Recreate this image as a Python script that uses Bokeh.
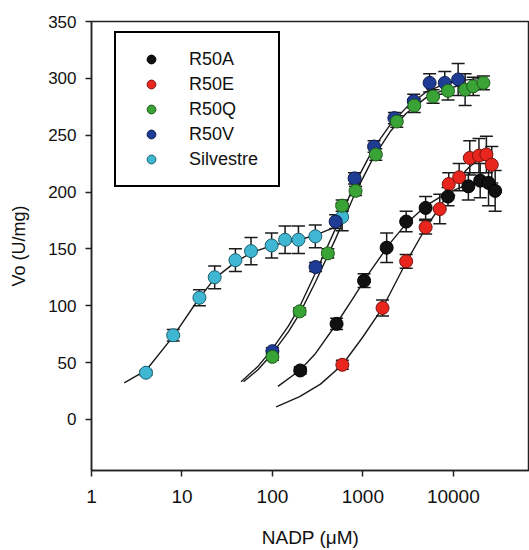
from bokeh.plotting import figure
from bokeh.models import (ColumnDataSource, Whisker, TeeHead, FixedTicker,
                          BasicTickFormatter, Legend, LegendItem, Range1d)
from bokeh.embed import file_html
from bokeh.resources import INLINE

# ---- data ----
sil_x = [4, 8, 15.6, 23, 39, 58, 98, 138, 194, 298, 590]
sil_y = [41, 74, 107, 125, 140, 148, 153, 158, 158, 161, 178]
sil_e = [2, 5, 7, 10, 10, 12, 11, 12, 12, 10, 12]

v_x = [100, 300, 500, 810, 1330, 2230, 3650, 5470, 8040, 11300]
v_y = [60, 134, 174, 212, 240, 265, 280, 296, 296, 299]
v_e = [3, 4, 6, 5, 5, 5, 6, 8, 10, 14]

q_x = [100, 200, 410, 590, 830, 1390, 2370, 3700, 5970, 8730, 13500, 16600, 21500]
q_y = [55, 95, 146, 188, 201, 233, 262, 276, 284, 289, 290, 293, 296]
q_e = [3, 3, 4, 5, 4, 5, 5, 6, 6, 8, 14, 8, 6]

a_x = [203, 512, 1031, 1832, 3010, 4940, 8730, 14660, 19800, 24500, 29000]
a_y = [43, 84, 122, 151, 174, 186, 196, 205, 210, 208, 201]
a_e = [3, 5, 6, 13, 9, 10, 8, 12, 15, 20, 18]

e_x = [593, 1650, 3010, 4940, 7080, 8900, 11600, 15200, 19200, 23200, 26600]
e_y = [48, 98, 139, 169, 185, 207, 213, 230, 232, 233, 224]
e_e = [4, 7, 6, 6, 13, 10, 12, 15, 15, 16, 16]

# fitted curves
fit_sil_x = [2.3, 4, 8, 15, 23, 40, 60, 100, 200, 300, 600]
fit_sil_y = [32, 43, 73, 105, 124, 139, 147, 153, 158, 162, 172]
fit_v_x = [45, 70, 100, 150, 200, 300, 500, 800, 1300, 2000, 3000, 5000, 8000, 12000, 20000]
fit_v_y = [33, 47, 62, 82, 99, 129, 168, 206, 238, 259, 274, 288, 295, 298, 300]
fit_q_x = [48, 70, 100, 150, 200, 300, 500, 800, 1300, 2000, 3000, 5000, 8000, 12000, 22000]
fit_q_y = [33, 44, 58, 77, 93, 121, 159, 197, 230, 253, 269, 283, 290, 294, 296]
fit_a_x = [115, 200, 300, 500, 800, 1200, 2000, 3000, 5000, 8000, 12000, 18000, 27000]
fit_a_y = [29, 43, 58, 83, 108, 130, 155, 172, 188, 198, 204, 208, 211]
fit_e_x = [110, 200, 340, 593, 990, 1650, 3000, 5000, 7000, 10000, 15000, 22000]
fit_e_y = [11, 20, 31, 48, 72, 98, 138, 169, 186, 207, 222, 232]

x_ticks = [1, 10, 100, 1000, 10000]
y_ticks = [0, 50, 100, 150, 200, 250, 300, 350]

series = [
    ("R50A", a_x, a_y, a_e, "#111111", "#000000"),
    ("R50E", e_x, e_y, e_e, "#e8261e", "#7a1410"),
    ("R50Q", q_x, q_y, q_e, "#3aa336", "#1d5a1b"),
    ("R50V", v_x, v_y, v_e, "#1e3c93", "#0e1d4d"),
    ("Silvestre", sil_x, sil_y, sil_e, "#3fb7d2", "#1b5f6e"),
]
fits = [(fit_sil_x, fit_sil_y), (fit_v_x, fit_v_y), (fit_q_x, fit_q_y),
        (fit_a_x, fit_a_y), (fit_e_x, fit_e_y)]

FONT = "Liberation Sans"

p = figure(width=529, height=550, x_axis_type="log",
           x_range=Range1d(1, 69500), y_range=Range1d(-45, 350),
           output_backend="svg", toolbar_location=None,
           min_border_left=91, min_border_right=0,
           min_border_top=21, min_border_bottom=80,
           background_fill_color="white", border_fill_color="white")
p.outline_line_color = "#222222"
p.outline_line_width = 1.5
p.xgrid.visible = False
p.ygrid.visible = False

for fx, fy in fits:
    p.line(fx, fy, line_color="#1a1a1a", line_width=1.4)

renderers = {}
for name, xs, ys, es, fill, edge in series:
    src = ColumnDataSource(dict(x=xs, y=ys,
                                lo=[y - e for y, e in zip(ys, es)],
                                hi=[y + e for y, e in zip(ys, es)]))
    w = Whisker(base="x", lower="lo", upper="hi", source=src,
                line_color="#1a1a1a", line_width=1.5,
                upper_head=TeeHead(size=13, line_color="#1a1a1a", line_width=1.5),
                lower_head=TeeHead(size=13, line_color="#1a1a1a", line_width=1.5))
    p.add_layout(w)

for name, xs, ys, es, fill, edge in series[::-1]:
    src = ColumnDataSource(dict(x=xs, y=ys))
    r = p.scatter("x", "y", source=src, size=13, marker="circle",
                  fill_color=fill, line_color=edge, line_width=1)
    renderers[name] = r

legend = Legend(items=[LegendItem(label=n, renderers=[renderers[n]]) for n, *_ in series],
                location=(23, 283))
legend.border_line_color = "#000000"
legend.border_line_width = 2
legend.border_line_alpha = 1
legend.padding = 15
legend.spacing = 3
legend.margin = 0
legend.glyph_height = 22
legend.glyph_width = 40
legend.label_height = 22
legend.label_standoff = 18
legend.label_width = 74
legend.label_text_font = FONT
legend.label_text_font_size = "18px"
legend.label_text_color = "#111111"
legend.background_fill_alpha = 1
p.add_layout(legend)

p.xaxis.ticker = FixedTicker(ticks=x_ticks, minor_ticks=[])
p.xaxis.formatter = BasicTickFormatter(use_scientific=False)
p.yaxis.ticker = FixedTicker(ticks=y_ticks, minor_ticks=[])

for ax in (p.xaxis, p.yaxis):
    ax.axis_line_color = "#222222"
    ax.axis_line_width = 1.5
    ax.major_tick_line_color = "#222222"
    ax.major_tick_line_width = 1.5
    ax.major_tick_out = 6
    ax.major_tick_in = 0
    ax.minor_tick_line_color = None
    ax.major_label_text_font = FONT
    ax.major_label_text_color = "#111111"
    ax.axis_label_text_font = FONT
    ax.axis_label_text_font_style = "normal"
    ax.axis_label_text_color = "#111111"

p.xaxis.major_label_text_font_size = "19px"
p.yaxis.major_label_text_font_size = "17px"
p.xaxis.axis_label = "NADP (μM)"
p.yaxis.axis_label = "Vo (U/mg)"
p.xaxis.axis_label_text_font_size = "19px"
p.yaxis.axis_label_text_font_size = "18px"
p.xaxis.major_label_standoff = 13
p.yaxis.major_label_standoff = 9
p.xaxis.axis_label_standoff = 21
p.yaxis.axis_label_standoff = 16

open("out.html", "w").write(file_html(p, INLINE))
